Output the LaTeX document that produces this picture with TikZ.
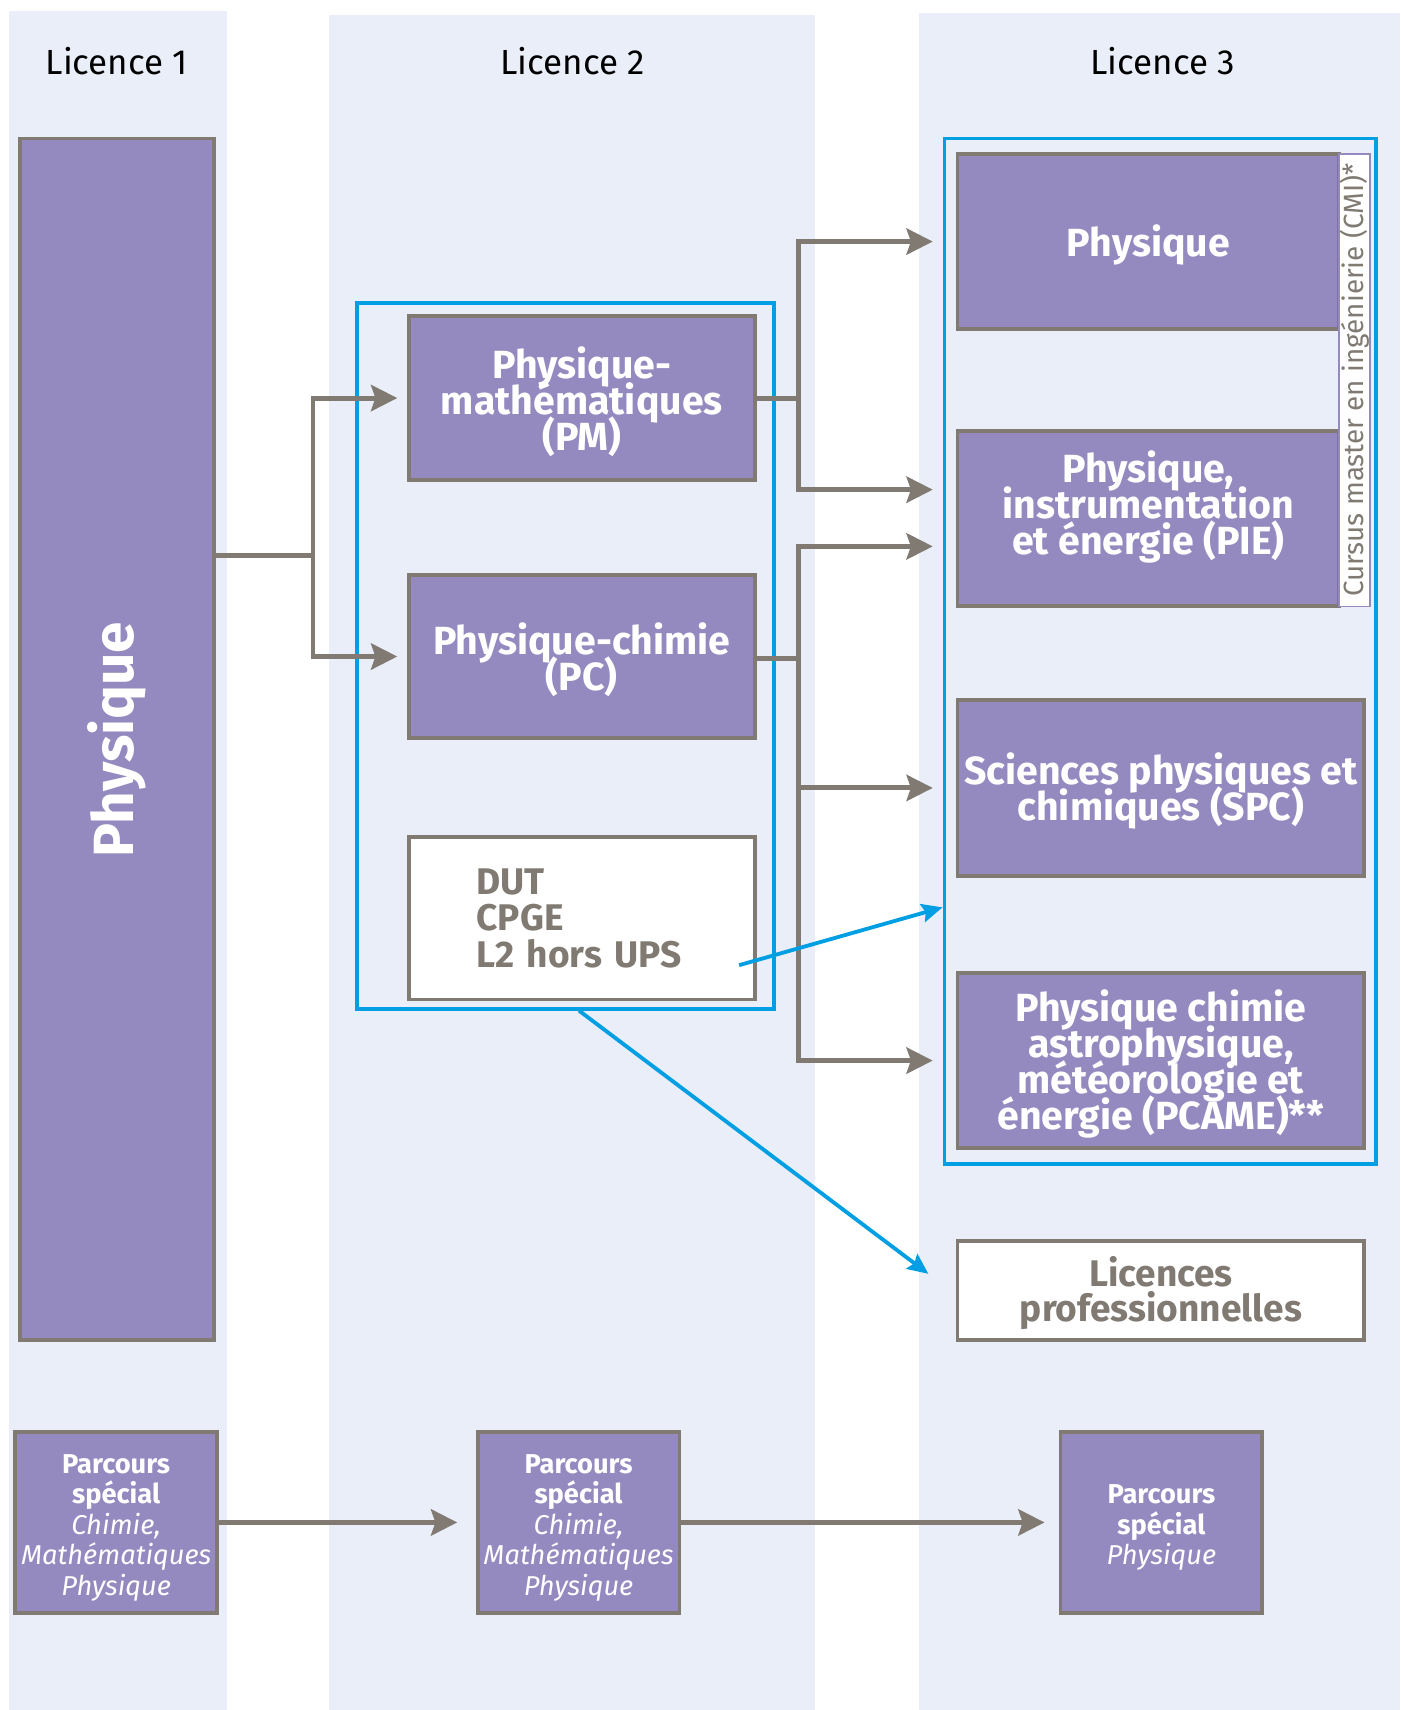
\documentclass[tikz,border=0pt]{standalone}
\usepackage{fontspec}
\setmainfont{Fira Sans}
\usetikzlibrary{positioning, arrows.meta}

\definecolor{fond}{RGB}{233,238,248}
\definecolor{lilas}{RGB}{149,138,192}
\definecolor{taupe}{RGB}{128,122,114}
\definecolor{bleu}{RGB}{0,158,226}

\newcommand{\fs}[2]{\fontsize{#1}{#2}\selectfont\lineskiplimit=-50pt}
\newcommand{\lift}[1][35pt]{\rule{0pt}{#1}}
\newcommand{\sink}[1][30pt]{\rule[-#1]{0pt}{0pt}}

\begin{document}
\begin{tikzpicture}[x=1pt, y=-1pt,
    prog/.style={rectangle, draw=taupe, line width=3.5pt, fill=lilas, text=white, inner sep=0pt, align=center, font=\bfseries\fs{36}{33}},
    other/.style={rectangle, draw=taupe, line width=3.5pt, fill=white, text=taupe, inner sep=0pt, align=center, font=\bfseries\fs{34}{33}},
    cadre/.style={rectangle, draw=bleu, line width=3.5pt, inner sep=0pt},
    special/.style={prog, minimum width=185, minimum height=166, font=\fs{25}{28}},
    flow/.style={draw=taupe, line width=4.5pt, -{Stealth[length=24pt, width=24pt, inset=4pt]}},
    link/.style={draw=taupe, line width=4.5pt},
    jump/.style={draw=bleu, line width=3.5pt, -{Stealth[length=19pt, width=17pt, inset=3pt]}},
    head/.style={font=\fs{32}{32}}]

  \useasboundingbox (0,0) rectangle (1284,1568);
  \fill[fond] (8,10) rectangle (208,1568);
  \fill[fond] (302,14) rectangle (747,1568);
  \fill[fond] (843,12) rectangle (1284,1568);

  \node[head] (hd1) at (107,56) {Licence 1};
  \node[head] (hd2) at (525,56) {Licence 2};
  \node[head] (hd3) at (1066,56) {Licence 3};

  \node[prog, minimum width=178, minimum height=1102, font=\bfseries\fs{52}{52}] (phys1) at (107,678) {\rotatebox{90}{Physique}};

  \node[cadre, minimum width=383, minimum height=647] (frame2) at (518.5,601.5) {};
  \node[prog, minimum width=317, minimum height=150] (pm) at (533.5,365) {\lift Physique-\\mathématiques\\(PM)};
  \node[prog, minimum width=317, minimum height=150] (pc) at (533.5,602) {\lift Physique-chimie\\(PC)};
  \node[other, minimum width=317, minimum height=149, text width=193, align=left, font=\bfseries\fs{34}{33.5}] (dut) at (533.5,842) {DUT\\CPGE\\L2 hors UPS};

  \node[cadre, minimum width=396, minimum height=940] (frame3) at (1064,597) {};
  \node[prog, minimum width=350, minimum height=161] (phys3) at (1053,221.5) {\lift Physique};
  \node[prog, minimum width=350, minimum height=161] (pie) at (1053,475.5) {Physique,\\instrumentation\\et énergie (PIE)\sink};
  \node[rectangle, draw=lilas, line width=1.5pt, fill=white, text=taupe, inner sep=0pt, minimum width=28, minimum height=415, font=\fs{25.5}{25.5}] (cmi) at (1242,348.5) {\rotatebox{90}{Cursus master en ingénierie (CMI)*}};
  \node[prog, minimum width=373, minimum height=161] (spc) at (1064.5,722.5) {\lift Sciences physiques et\\chimiques (SPC)};
  \node[prog, minimum width=373, minimum height=161] (pcame) at (1064.5,972.5) {\lift Physique chimie\\astrophysique,\\météorologie et\\énergie (PCAME)**};
  \node[other, minimum width=373, minimum height=91, font=\bfseries\fs{34}{32}] (lp) at (1064.5,1183.5) {\lift[32pt]Licences\\professionnelles};

  \node[special] (ps1) at (106.5,1396) {\lift[27pt]\textbf{Parcours}\\\textbf{spécial}\\\textit{Chimie,}\\\textit{Mathématiques}\\\textit{Physique}};
  \node[special] (ps2) at (530.5,1396) {\lift[27pt]\textbf{Parcours}\\\textbf{spécial}\\\textit{Chimie,}\\\textit{Mathématiques}\\\textit{Physique}};
  \node[special] (ps3) at (1065,1396) {\lift[27pt]\textbf{Parcours}\\\textbf{spécial}\\\textit{Physique}};

  % L1 -> L2
  \coordinate (j1) at (287,509);
  \draw[link] (phys1.east |- j1) -- (j1);
  \draw[flow, shorten >=9pt] (j1) |- (pm);
  \draw[flow, shorten >=9pt] (j1) |- (pc);

  % L2 -> L3
  \coordinate (j2) at (732,365);
  \coordinate (j3) at (732,604);
  \draw[link] (pm) -- (j2);
  \draw[link] (pc.east |- j3) -- (j3);
  \draw[flow, shorten >=21pt] (j2) |- (phys3);
  \draw[flow, shorten >=21pt] (j2) |- ([yshift=26.5pt]pie.west);
  \draw[flow, shorten >=21pt] (j3) |- ([yshift=-25.5pt]pie.west);
  \draw[flow, shorten >=21pt] (j3) |- (spc);
  \draw[flow, shorten >=21pt] (j3) |- (pcame);

  \draw[jump] ([xshift=-16pt, yshift=-43pt]dut.east) -- ([yshift=-235pt]frame3.west);
  \draw[jump] ([xshift=12.5pt]frame2.south) -- ([xshift=-25pt, yshift=15.5pt]lp.west);

  % parcours special
  \draw[flow, shorten >=17pt] (ps1) -- (ps2);
  \draw[flow, shorten >=13pt] (ps2) -- (ps3);
\end{tikzpicture}
\end{document}
